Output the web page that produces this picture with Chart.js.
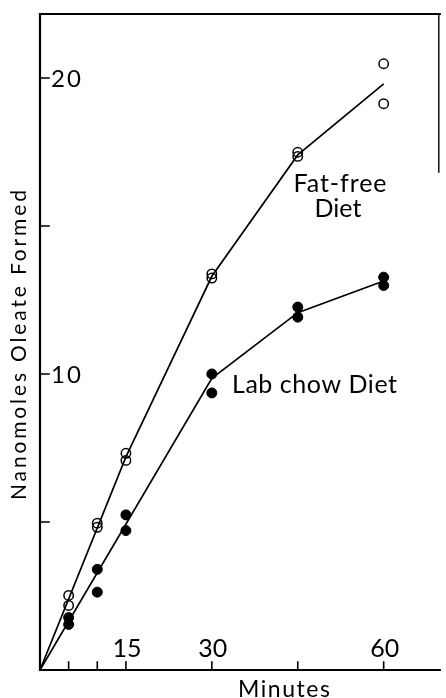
<!DOCTYPE html>
<html>
<head>
<meta charset="utf-8">
<script src="https://cdn.jsdelivr.net/npm/chart.js@4/dist/chart.umd.min.js"></script>
<style>
  html, body { margin: 0; padding: 0; background: #fff; }
  canvas { display: block; }
</style>
</head>
<body>
<canvas id="c" width="446" height="698"></canvas>
<script>
// Incubation times (minutes) and duplicate determinations of oleate formed (nmol)
const minutes = [5, 10, 15, 30, 45, 60];
const fatFreeRunA = [2.52, 4.96, 7.32, 13.38, 17.49, 20.48];
const fatFreeRunB = [2.18, 4.82, 7.08, 13.24, 17.35, 19.13];
const labChowRunA = [1.77, 3.40, 5.24, 10.0, 12.26, 13.27];
const labChowRunB = [1.54, 2.63, 4.71, 9.36, 11.92, 12.99];

// Drawn-through curves for each diet
const fatFreeCurveX = [0, 15, 30, 45, 60];
const fatFreeCurveY = [0, 7.2, 13.3, 17.4, 19.8];
const labChowCurveX = [0, 30, 45, 60];
const labChowCurveY = [0, 9.85, 12.07, 13.14];

// Axis ticks
const xTickValues = [5, 10, 15, 30, 45, 60];
const xTickLabels = ['', '', '15', '30', '', '60'];
const yTickValues = [5, 10, 15, 20];
const yTickLabels = ['', '10', '', '20'];

const FONT = 'Lato, "Open Sans", "DejaVu Sans", sans-serif';
const pts = (xs, ys) => xs.map((x, i) => ({ x: x, y: ys[i] }));

const openPoint = {
  showLine: false, pointStyle: 'circle', pointRadius: 4.7,
  pointBorderWidth: 1.5, pointBorderColor: '#000', pointBackgroundColor: 'rgba(255,255,255,0)'
};
const filledPoint = {
  showLine: false, pointStyle: 'circle', pointRadius: 5,
  pointBorderWidth: 1, pointBorderColor: '#000', pointBackgroundColor: '#000'
};
const curve = {
  showLine: true, borderColor: '#000', borderWidth: 1.7, pointRadius: 0, fill: false, tension: 0
};

// Spread lettering so a word fills a given width (stencil-lettering look)
function spacedText(ctx, text, x, y, width, align) {
  ctx.letterSpacing = '0px';
  const w = ctx.measureText(text).width;
  const n = Math.max(text.length - 1, 1);
  const sp = Math.max(0, (width - w) / n);
  const total = w + sp * n;
  ctx.letterSpacing = sp.toFixed(2) + 'px';
  ctx.textAlign = 'left';
  let left = x;
  if (align === 'center') left = x - total / 2;
  ctx.fillText(text, left, y);
  ctx.letterSpacing = '0px';
}

// Hand-lettered axes: frame, inward ticks, in-plot tick labels, titles, curve labels
const axesPlugin = {
  id: 'axesPlugin',
  afterDraw(chart) {
    const ctx = chart.ctx;
    const a = chart.chartArea;
    const xs = chart.scales.x, ys = chart.scales.y;
    ctx.save();
    ctx.strokeStyle = '#000';
    ctx.fillStyle = '#000';
    ctx.lineCap = 'square';

    // frame
    ctx.lineWidth = 2.2;
    ctx.beginPath();
    ctx.moveTo(a.left, a.top); ctx.lineTo(a.left, a.bottom); ctx.lineTo(a.right, a.bottom);
    ctx.moveTo(a.left, a.top); ctx.lineTo(a.right, a.top);
    ctx.stroke();
    ctx.lineWidth = 1.4;
    ctx.beginPath();
    ctx.moveTo(a.right - 1, a.top); ctx.lineTo(a.right - 1, a.top + 158);
    ctx.stroke();

    // ticks
    ctx.lineWidth = 1.6;
    ctx.beginPath();
    yTickValues.forEach(v => {
      const y = ys.getPixelForValue(v);
      ctx.moveTo(a.left, y); ctx.lineTo(a.left + 9, y);
    });
    xTickValues.forEach(v => {
      const x = xs.getPixelForValue(v);
      ctx.moveTo(x, a.bottom); ctx.lineTo(x, a.bottom - 8);
    });
    ctx.stroke();

    // tick labels
    ctx.font = '400 24px ' + FONT;
    ctx.textBaseline = 'middle';
    yTickValues.forEach((v, i) => {
      if (yTickLabels[i]) spacedText(ctx, yTickLabels[i], a.left + 11, ys.getPixelForValue(v) + 1, 30, 'left');
    });
    ctx.font = '400 25px ' + FONT;
    ctx.textBaseline = 'alphabetic';
    xTickValues.forEach((v, i) => {
      if (xTickLabels[i]) spacedText(ctx, xTickLabels[i], xs.getPixelForValue(v) + 1, a.bottom - 13, 29, 'center');
    });

    // axis titles
    ctx.font = '400 23px ' + FONT;
    spacedText(ctx, 'Minutes', 284, 697, 92, 'center');

    ctx.save();
    ctx.translate(25.5, 345);
    ctx.rotate(-Math.PI / 2);
    ctx.font = '400 21px ' + FONT;
    ctx.textBaseline = 'alphabetic';
    spacedText(ctx, 'Nanomoles Oleate Formed', 0, 0, 310, 'center');
    ctx.restore();

    // curve labels
    ctx.font = '400 25px ' + FONT;
    spacedText(ctx, 'Fat-free', 340, 192, 93, 'center');
    spacedText(ctx, 'Diet', 338, 217, 45, 'center');
    spacedText(ctx, 'Lab chow Diet', 232, 393, 165, 'left');
    ctx.restore();
  }
};

new Chart(document.getElementById('c'), {
  type: 'scatter',
  data: {
    datasets: [
      Object.assign({ label: 'Fat-free curve', data: pts(fatFreeCurveX, fatFreeCurveY) }, curve),
      Object.assign({ label: 'Lab chow curve', data: pts(labChowCurveX, labChowCurveY) }, curve),
      Object.assign({ label: 'Fat-free A', data: pts(minutes, fatFreeRunA) }, openPoint),
      Object.assign({ label: 'Fat-free B', data: pts(minutes, fatFreeRunB) }, openPoint),
      Object.assign({ label: 'Lab chow A', data: pts(minutes, labChowRunA) }, filledPoint),
      Object.assign({ label: 'Lab chow B', data: pts(minutes, labChowRunB) }, filledPoint)
    ]
  },
  options: {
    responsive: false,
    animation: false,
    devicePixelRatio: 1,
    layout: { padding: { left: 40, right: 0, top: 14, bottom: 28 } },
    plugins: { legend: { display: false }, tooltip: { enabled: false } },
    scales: {
      x: { type: 'linear', display: false, min: 0, max: 69.8 },
      y: { type: 'linear', display: false, min: 0, max: 22.16 }
    }
  },
  plugins: [axesPlugin]
});
</script>
</body>
</html>
